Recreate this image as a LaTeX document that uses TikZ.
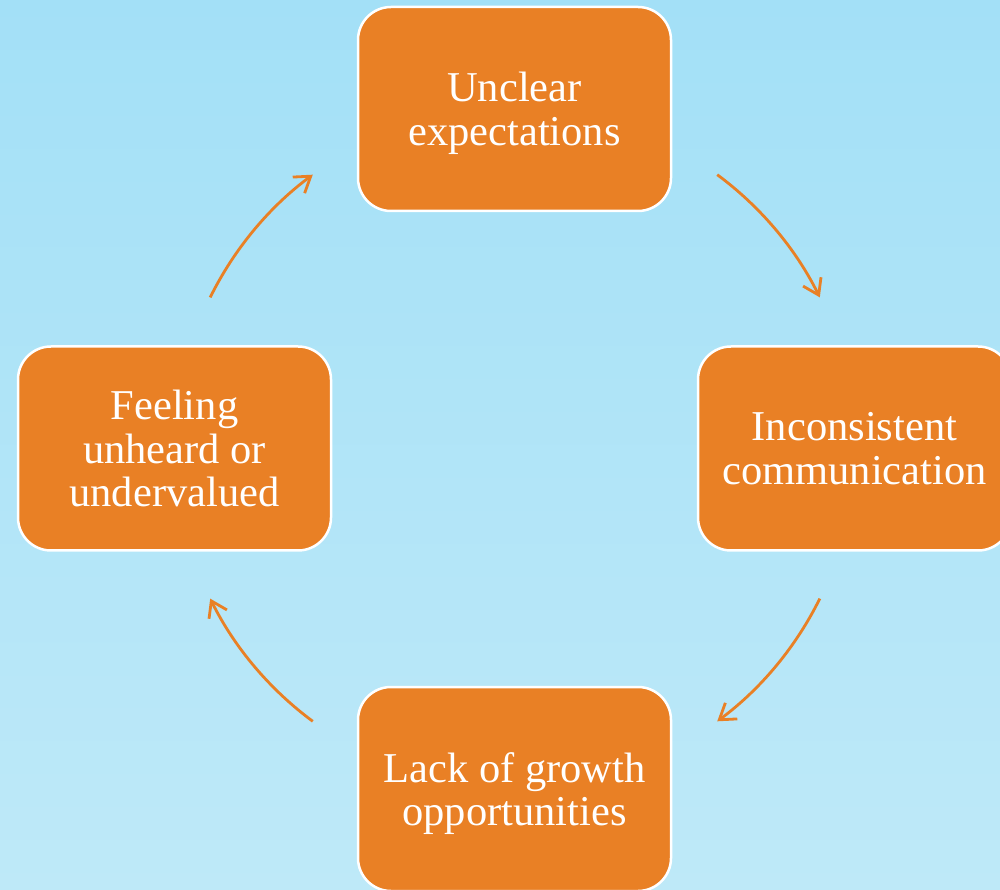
\documentclass[tikz,border=0pt]{standalone}
\usepackage{fontspec}
\setmainfont{Liberation Serif}
\usetikzlibrary{arrows.meta}
\definecolor{bgtop}{RGB}{163,224,247}
\definecolor{bgbot}{RGB}{190,233,248}
\definecolor{boxorange}{RGB}{233,128,37}
\tikzset{
  cyclebox/.style={draw=white, line width=2.5pt, fill=boxorange, rounded corners=33pt,
    minimum width=313pt, minimum height=204pt, inner sep=0pt, align=center,
    text=white, text depth=0pt, font=\fontsize{42.5}{43.5}\selectfont},
  cyclearrow/.style={draw=boxorange, line width=2.8pt,
    -{Straight Barb[length=15pt,width=20pt,line width=2.8pt]}}
}
\begin{document}
\begin{tikzpicture}[x=1pt,y=1pt]
  \useasboundingbox (0,0) rectangle (1000,889);
  \clip (0,0) rectangle (1000,889);
  \shade[top color=bgtop, bottom color=bgbot] (0,0) rectangle (1000,889);
  \coordinate (ctr) at (515,441);
  \node[cyclebox] (top) at (514.5,780) {Unclear\\expectations};
  \node[cyclebox] (right) at (854.5,440.5) {Inconsistent\\communication};
  \node[cyclebox] (bottom) at (514.5,100) {Lack of growth\\opportunities};
  \node[cyclebox] (left) at (174.5,440.5) {Feeling\\unheard or\\undervalued};
  \draw[cyclearrow] ([shift={(53.5:340)}]ctr) arc[start angle=53.5, end angle=26.3, radius=340];
  \draw[cyclearrow] ([shift={(-26.3:340)}]ctr) arc[start angle=-26.3, end angle=-53.5, radius=340];
  \draw[cyclearrow] ([shift={(233.5:340)}]ctr) arc[start angle=233.5, end angle=206.3, radius=340];
  \draw[cyclearrow] ([shift={(153.7:340)}]ctr) arc[start angle=153.7, end angle=126.5, radius=340];
\end{tikzpicture}
\end{document}
